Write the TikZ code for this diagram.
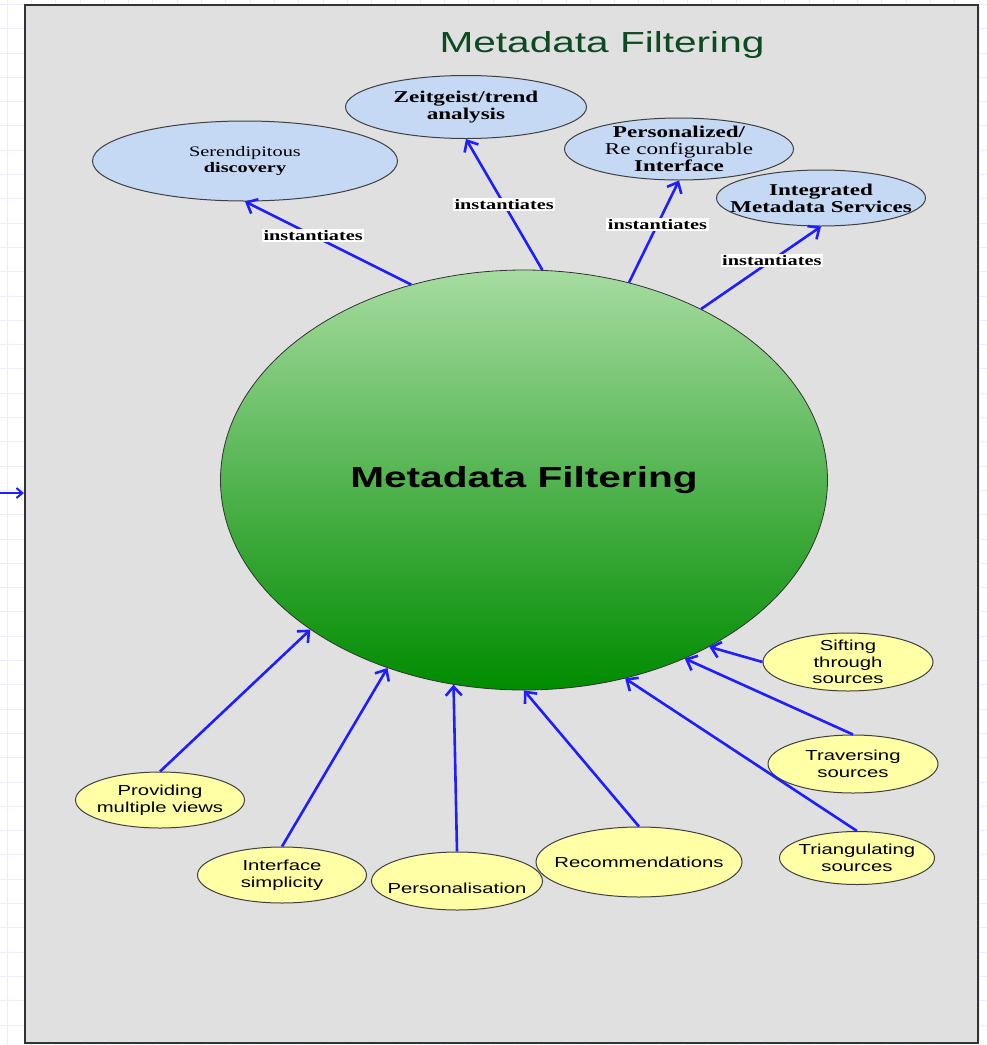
\documentclass[tikz,border=0pt]{standalone}
\usepackage{fontspec}
\newfontfamily\arialwide[FakeStretch=1.4]{Liberation Sans}
\newfontfamily\timeswide[FakeStretch=1.4]{Liberation Serif}
\usetikzlibrary{shapes.geometric, arrows.meta, positioning}
\definecolor{panelgray}{RGB}{224,224,224}
\definecolor{ideablue}{RGB}{198,217,244}
\definecolor{aspectyellow}{RGB}{255,255,166}
\definecolor{linkblue}{RGB}{30,30,255}
\definecolor{titlegreen}{RGB}{12,74,34}
\definecolor{gridlilac}{RGB}{236,236,252}
\definecolor{hubtop}{RGB}{166,220,160}
\definecolor{hubmid}{RGB}{80,185,80}
\definecolor{hubbottom}{RGB}{0,140,0}

\begin{document}
\begin{tikzpicture}[
    x=1pt, y=-1pt,
    panel/.style={rectangle, draw=black!80, line width=2.5pt, fill=panelgray, minimum width=953pt, minimum height=1038pt, inner sep=0pt},
    hub/.style={ellipse, draw=black!80, line width=0.8pt, top color=hubtop, middle color=hubmid, bottom color=hubbottom, minimum width=607pt, minimum height=420pt, inner sep=0pt, font=\arialwide\bfseries\fontsize{29}{34}\selectfont},
    idea/.style={ellipse, draw=black!75, line width=1pt, fill=ideablue, inner sep=-30pt, align=center, font=\timeswide\bfseries\fontsize{16.5}{17}\selectfont},
    aspect/.style={ellipse, draw=black!75, line width=1pt, fill=aspectyellow, inner sep=-30pt, align=center, font=\arialwide\fontsize{14.5}{16.5}\selectfont},
    link/.style={-{Straight Barb[length=9pt, width=16pt]}, linkblue, line width=2.6pt},
    tag/.style={fill=white, text=black, inner sep=1.5pt, font=\timeswide\bfseries\fontsize{14.5}{16}\selectfont}
]
\useasboundingbox (0,0) rectangle (987,1045);

% Sheet grid and frame
\draw[gridlilac, line width=0.8pt, step=24.3pt, shift={(7,4.3)}] (-7,-4.3) grid (980,1041);
\node[panel] (sheet) at (501.5,524) {};

\coordinate (feedin) at (0,493);
\coordinate (feedout) at (24,493);
\draw[linkblue, line width=2pt, -{Straight Barb[length=6pt, width=10pt]}] (feedin) -- (feedout);

% Title
\node[font=\arialwide\fontsize{29}{34}\selectfont, text=titlegreen] (title) at (602,45) {Metadata Filtering};

% Central node
\node[hub] (hub) at (524,480) {Metadata Filtering};

% Instantiations (top)
\node[idea, minimum width=305pt, minimum height=80pt, font=\timeswide\bfseries\fontsize{14.5}{16}\selectfont] (serendip) at (245,161) {{\mdseries Serendipitous}\\discovery};
\node[idea, minimum width=241pt, minimum height=63pt] (zeitgeist) at (466,107) {Zeitgeist/trend\\analysis};
\node[idea, minimum width=229pt, minimum height=62pt] (reconfig) at (679,149) {Personalized/\\{\mdseries Re configurable}\\Interface};
\node[idea, minimum width=209pt, minimum height=56pt] (integrated) at (821,198) {Integrated\\Metadata Services};

\draw[link] (hub.120.9) -- node[tag, pos=0.59] {instantiates} (serendip.south);
\draw[link] (hub.85.3) -- node[tag, pos=0.5] {instantiates} (zeitgeist.south);
\draw[link] (hub.62.7) -- node[tag, pos=0.57] {instantiates} (reconfig.south);
\draw[link] (hub.44.2) -- node[tag, pos=0.59] {instantiates} (integrated.south);

% Aspects (bottom)
\node[aspect, minimum width=169pt, minimum height=56pt] (views) at (160,800) {Providing\\multiple views};
\node[aspect, minimum width=169pt, minimum height=56pt] (simplicity) at (282,875) {Interface\\simplicity};
\node[aspect, minimum width=206pt, minimum height=70pt] (recommend) at (639,862) {Recommendations};
\node[aspect, minimum width=171pt, minimum height=58pt] (personal) at (457,881) {\raisebox{-7pt}[\height][\depth]{Personalisation}};
\node[aspect, minimum width=155pt, minimum height=53pt] (triang) at (857,858) {Triangulating\\sources};
\node[aspect, minimum width=170pt, minimum height=58pt] (travers) at (853,764) {Traversing\\sources};
\node[aspect, minimum width=170pt, minimum height=58pt] (sifting) at (848,662) {Sifting\\through\\sources};

\draw[link] (views.north) -- (hub.215);
\draw[link] (simplicity.north) -- (hub.234);
\draw[link] (personal.north) -- (hub.251.6);
\draw[link] (recommend.north) -- (hub.270.8);
\draw[link] (triang.north) -- (hub.297);
\draw[link] (travers.north) -- (hub.312);
\draw[link] (sifting.west) -- (hub.318.6);

\end{tikzpicture}
\end{document}
